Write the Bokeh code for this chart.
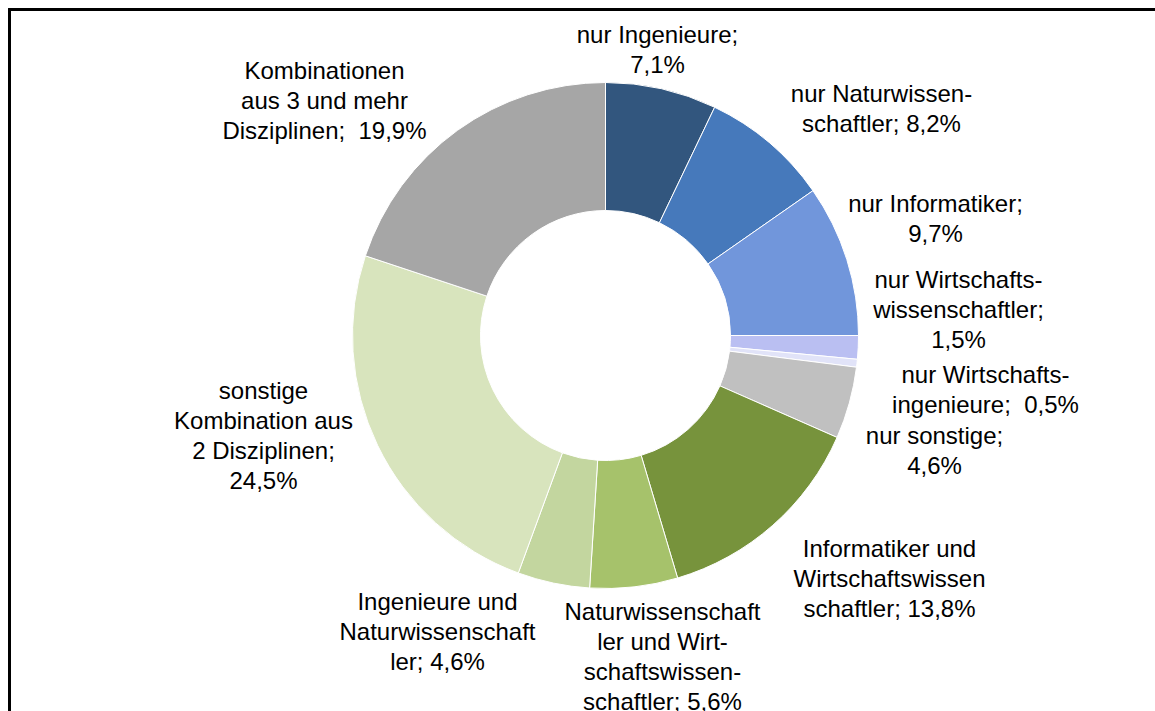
import math
from bokeh.plotting import figure
from bokeh.models import Range1d, ColumnDataSource
from bokeh.embed import file_html
from bokeh.resources import INLINE
from bokeh.core.properties import value

# ---- data ----
categories = [
    "nur Ingenieure",
    "nur Naturwissenschaftler",
    "nur Informatiker",
    "nur Wirtschaftswissenschaftler",
    "nur Wirtschaftsingenieure",
    "nur sonstige",
    "Informatiker und Wirtschaftswissenschaftler",
    "Naturwissenschaftler und Wirtschaftswissenschaftler",
    "Ingenieure und Naturwissenschaftler",
    "sonstige Kombination aus 2 Disziplinen",
    "Kombinationen aus 3 und mehr Disziplinen",
]
shares = [7.1, 8.2, 9.7, 1.5, 0.5, 4.6, 13.8, 5.6, 4.6, 24.5, 19.9]
label_templates = [
    "nur Ingenieure;\n{v}",
    "nur Naturwissen-\nschaftler; {v}",
    "nur Informatiker;\n{v}",
    "nur Wirtschafts-\nwissenschaftler;\n{v}",
    "nur Wirtschafts-\ningenieure;\u00a0 {v}",
    "nur sonstige;\n{v}",
    "Informatiker und\nWirtschaftswissen\nschaftler; {v}",
    "Naturwissenschaft\nler und Wirt-\nschaftswissen-\nschaftler; {v}",
    "Ingenieure und\nNaturwissenschaft\nler; {v}",
    "sonstige\nKombination aus\n2 Disziplinen;\n{v}",
    "Kombinationen\naus 3 und mehr\nDisziplinen;\u00a0 {v}",
]
colors = ["#32567E", "#4679BB", "#7196DB", "#BABFF2", "#E1E3F8", "#C0C0C0",
          "#77933C", "#A6C26B", "#C3D69F", "#D8E4BD", "#A6A6A6"]

# ---- layout (page pixel positions of label centres) ----
label_px = [657, 881, 935, 958, 985, 934, 889, 662, 437, 263, 324]
label_py = [49, 108, 218, 309, 389, 450, 578, 656, 631, 435, 100]

W, H = 1155, 711
cx, cy = 605, H - 335
r_out, r_in = 253, 125

total = sum(shares)
starts, ends = [], []
acc = 0.0
for s in shares:
    starts.append(math.pi / 2 - 2 * math.pi * acc / total)
    acc += s
    ends.append(math.pi / 2 - 2 * math.pi * acc / total)

src = ColumnDataSource(dict(cat=categories, share=shares, start=starts, end=ends, color=colors))

p = figure(width=W, height=H, x_range=Range1d(0, W), y_range=Range1d(0, H),
           output_backend="svg", toolbar_location=None, min_border=0,
           x_axis_location=None, y_axis_location=None)
p.grid.visible = False
p.outline_line_color = None
p.background_fill_color = "white"
p.border_fill_color = "white"

# frame lines (left and top)
p.quad(left=[8], right=[10], bottom=[0], top=[H - 8], color="black")
p.quad(left=[8], right=[W], bottom=[H - 10], top=[H - 8], color="black")

p.annular_wedge(x=cx, y=cy, inner_radius=r_in, outer_radius=r_out,
                start_angle="start", end_angle="end", direction="clock",
                fill_color="color", line_color="white", line_width=1, source=src)

def fmt(v):
    return ("%.1f" % v).replace(".", ",") + "%"

labels = [t.format(v=fmt(v)) for t, v in zip(label_templates, shares)]
lsrc = ColumnDataSource(dict(
    x=label_px,
    y=[H - y for y in label_py],
    text=labels))
p.text(x="x", y="y", text="text", source=lsrc, text_align="center",
       text_baseline="middle", text_font=value("Liberation Sans"),
       text_font_size="24px", text_color="#000000", text_line_height=1.1)

open("out.html", "w").write(file_html(p, INLINE))
